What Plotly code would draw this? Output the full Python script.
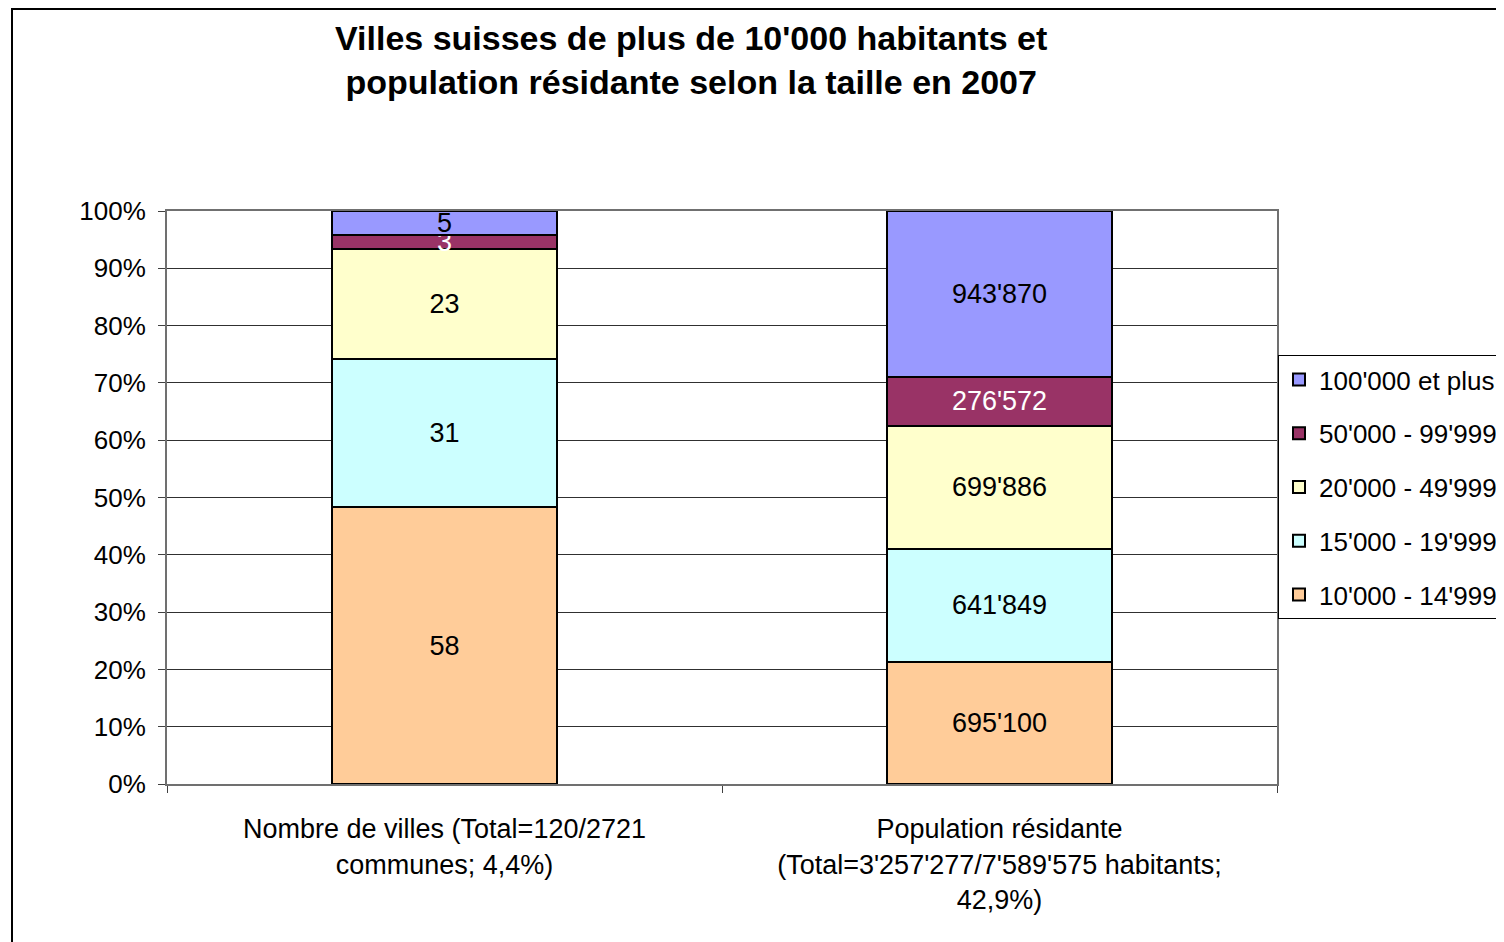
import plotly.graph_objects as go

categories = [
    "Nombre de villes (Total=120/2721<br>communes; 4,4%)",
    "Population résidante<br>(Total=3'257'277/7'589'575 habitants;<br>42,9%)",
]
series_names = ["10'000 - 14'999", "15'000 - 19'999", "20'000 - 49'999",
                "50'000 - 99'999", "100'000 et plus"]
villes = [58, 31, 23, 3, 5]
population = [695100, 641849, 699886, 276572, 943870]
colors = ["#FFCC99", "#CCFFFF", "#FFFFCC", "#993366", "#9999FF"]
text_colors = ["black", "black", "black", "white", "black"]
title_text = ("Villes suisses de plus de 10'000 habitants et<br>"
              "population résidante selon la taille en 2007")

FONT = "Liberation Sans, Arial, sans-serif"


def fmt(v):
    return f"{v:,}".replace(",", "'")


fig = go.Figure()
n = len(series_names)
for i, name in enumerate(series_names):
    vals = [villes[i], population[i]]
    fig.add_trace(go.Bar(
        x=categories, y=vals, name=name,
        marker=dict(color=colors[i], line=dict(color="black", width=2)),
        text=[fmt(v) for v in vals],
        textposition="inside", insidetextanchor="middle",
        textangle=0, constraintext="none",
        textfont=dict(family=FONT, size=27, color=text_colors[i]),
        width=0.405, legendgroup=f"g{i}", legendrank=n - i,
        hoverinfo="name+y",
    ))

# page has an 8px body margin; positions below are in figure pixels
W, H = 1504, 942
L, R, T, B = 159, 1269, 203, 776
pw, ph = R - L, B - T

fig.update_layout(
    width=W, height=H,
    barmode="stack", barnorm="percent",
    paper_bgcolor="white", plot_bgcolor="white",
    margin=dict(l=L, r=W - R, t=T, b=H - B, autoexpand=False),
    font=dict(family=FONT, size=27, color="black"),
    uniformtext=dict(minsize=27, mode="show"),
    xaxis=dict(
        showline=True, linecolor="#707070", linewidth=2, mirror=True,
        ticks="outside", ticklen=7, tickcolor="#404040", tickson="boundaries",
        tickfont=dict(family=FONT, size=27), ticklabelstandoff=20,
        showgrid=False,
    ),
    yaxis=dict(
        range=[0, 100], tick0=0, dtick=10, ticksuffix="%",
        showline=True, linecolor="#707070", linewidth=2, mirror=True,
        ticks="outside", ticklen=7, tickcolor="#404040",
        tickfont=dict(family=FONT, size=26), ticklabelstandoff=7,
        showgrid=True, gridcolor="#303030", gridwidth=1,
        zeroline=False,
    ),
    legend=dict(
        x=1.0 + 1 / pw, xanchor="left", y=(B - 347) / ph, yanchor="top",
        traceorder="grouped", tracegroupgap=17,
        bgcolor="white", bordercolor="black", borderwidth=1,
        font=dict(family=FONT, size=26), itemwidth=30,
    ),
    annotations=[dict(
        text=title_text, showarrow=False,
        xref="paper", yref="paper",
        x=(683 - L) / pw, xanchor="center",
        y=(B - 52) / ph, yanchor="middle",
        font=dict(family=FONT, size=34, color="black", weight="bold"),
    )],
    shapes=[dict(
        type="rect", xref="paper", yref="paper",
        x0=(4 - L) / pw, x1=1.5, y0=-0.6, y1=(B - 1) / ph,
        line=dict(color="black", width=2), fillcolor="rgba(0,0,0,0)",
        layer="below",
    )],
)

fig.write_html("out.html")
